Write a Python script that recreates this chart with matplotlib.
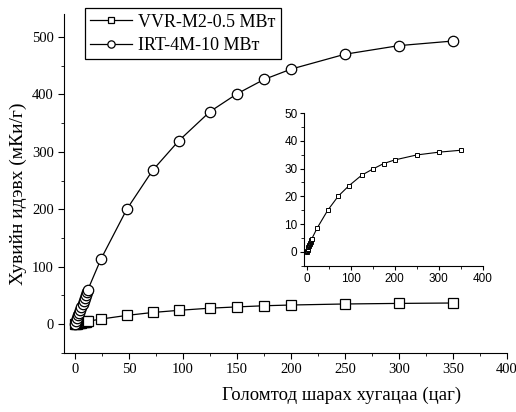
import matplotlib
matplotlib.use("Agg")
import matplotlib.pyplot as plt
from matplotlib.ticker import MultipleLocator

# irradiation time (hours)
hours = [0, 1, 2, 3, 4, 5, 6, 7, 8, 9, 10, 11, 12,
         24, 48, 72, 96, 125, 150, 175, 200, 250, 300, 350]

# specific activity (mCi/g)
vvr_m2 = [0, 0.4, 0.8, 1.2, 1.6, 2.0, 2.4, 2.8, 3.2, 3.6, 4.0, 4.4, 4.8,
          8.6, 15.0, 20.1, 23.8, 27.6, 29.8, 31.8, 33.1, 34.9, 35.9, 36.6]
irt_4m = [0, 5, 10, 15, 20, 25, 30, 35, 40, 45, 50, 55, 60,
          113, 200, 268, 319, 370, 401, 426, 444, 470, 485, 493]

labels = ["VVR-M2-0.5 МВт", "IRT-4M-10 МВт"]

serif = "Liberation Serif"
sans = "Liberation Sans"

fig = plt.figure(figsize=(5.16, 4.12), dpi=100)
ax = fig.add_axes([0.1244, 0.1439, 0.858, 0.822])

ax.plot(hours, vvr_m2, color="black", lw=0.9, marker="s", ms=6.5,
        mfc="white", mec="black", mew=0.9, label=labels[0])
ax.plot(hours, irt_4m, color="black", lw=0.9, marker="o", ms=7.5,
        mfc="white", mec="black", mew=0.9, label=labels[1])

ax.set_xlim(-10, 400)
ax.set_ylim(-50, 540)
ax.xaxis.set_major_locator(MultipleLocator(50))
ax.xaxis.set_minor_locator(MultipleLocator(25))
ax.yaxis.set_major_locator(MultipleLocator(100))
ax.yaxis.set_minor_locator(MultipleLocator(50))
ax.spines["top"].set_visible(False)
ax.spines["right"].set_visible(False)
ax.tick_params(which="both", direction="out")
ax.tick_params(which="major", length=4, labelsize=10.5)
ax.tick_params(which="minor", length=2.5)
for lbl in ax.get_xticklabels() + ax.get_yticklabels():
    lbl.set_fontfamily(serif)

fig.text(0.661, 0.04, "Голомтод шарах хугацаа (цаг)", fontfamily=serif,
         fontsize=13.5, ha="center", va="center")
fig.text(0.035, 0.53, "Хувийн идэвх (мКи/г)", fontfamily=serif,
         fontsize=14, ha="center", va="center", rotation=90)

leg = ax.legend(loc="upper left", bbox_to_anchor=(0.047, 1.017), frameon=True,
                fancybox=False, edgecolor="black", framealpha=1,
                prop={"family": serif, "size": 13}, handlelength=2.3,
                handletextpad=0.35, borderpad=0.3, labelspacing=0.35,
                borderaxespad=0, markerscale=0.7)
leg.get_frame().set_linewidth(0.9)

# inset with VVR-M2 data
ins = fig.add_axes([0.590, 0.355, 0.3453, 0.3706])
ins.plot(hours, vvr_m2, color="black", lw=0.8, marker="s", ms=3,
         mfc="white", mec="black", mew=0.7)
ins.set_xlim(-5, 400)
ins.set_ylim(-5, 50)
ins.xaxis.set_major_locator(MultipleLocator(100))
ins.xaxis.set_minor_locator(MultipleLocator(50))
ins.yaxis.set_major_locator(MultipleLocator(10))
ins.yaxis.set_minor_locator(MultipleLocator(5))
ins.spines["top"].set_visible(False)
ins.spines["right"].set_visible(False)
ins.patch.set_alpha(0)
ins.tick_params(which="both", direction="out")
ins.tick_params(which="major", length=3, labelsize=8.5, pad=2)
ins.tick_params(which="minor", length=2)
for lbl in ins.get_xticklabels() + ins.get_yticklabels():
    lbl.set_fontfamily(sans)

fig.savefig("out.png", dpi=100)
